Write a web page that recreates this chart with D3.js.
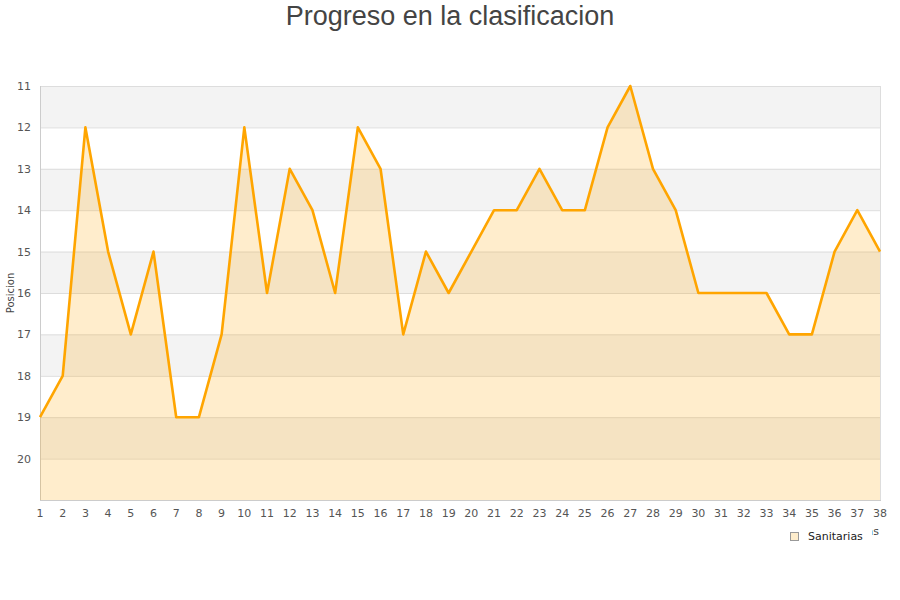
<!DOCTYPE html>
<html><head><meta charset="utf-8">
<script src="https://cdn.jsdelivr.net/npm/d3@7"></script>
<style>body{margin:0;background:#fff}svg{display:block}</style>
</head><body>
<script>
const jornadas = d3.range(1, 39);
const posiciones = [19,18,12,15,17,15,19,19,17,12,16,13,14,16,12,13,17,15,16,15,14,14,13,14,14,12,11,13,14,16,16,16,16,17,17,15,14,15];
const yTicks = [11,12,13,14,15,16,17,18,19,20];
const seriesName = "Sanitarias";
const title = "Progreso en la clasificacion";
const yTitle = "Posicion";
const xTitle = "Jornadas";

const W = 900, H = 600;
const svg = d3.select("body").append("svg").attr("width", W).attr("height", H);
const x = d3.scaleLinear().domain([1, 38]).range([40, 880]);
const y = d3.scaleLinear().domain([11, 21]).range([86, 500]);
const font = "DejaVu Sans, sans-serif";

// bands
d3.range(11, 21).forEach(v => {
  if ((v - 11) % 2 === 0) {
    svg.append("rect").attr("x", 40).attr("y", y(v)).attr("width", 840).attr("height", y(v + 1) - y(v)).attr("fill", "#f3f3f3");
  }
});
// grid
svg.append("g").selectAll("line").data(d3.range(11, 22)).join("line")
  .attr("x1", 40).attr("x2", 880).attr("y1", d => y(d) + 0.5).attr("y2", d => y(d) + 0.5)
  .attr("stroke", "#dddddd");
// frame
svg.append("line").attr("x1", 40.5).attr("x2", 40.5).attr("y1", 86).attr("y2", 500).attr("stroke", "#cccccc");
svg.append("line").attr("x1", 880.5).attr("x2", 880.5).attr("y1", 86).attr("y2", 500).attr("stroke", "#dddddd");
svg.append("line").attr("x1", 40).attr("x2", 881).attr("y1", 500.5).attr("y2", 500.5).attr("stroke", "#cccccc");

const data = jornadas.map((j, i) => ({j, p: posiciones[i]}));
svg.append("path").datum(data)
  .attr("d", d3.area().x(d => x(d.j)).y0(y(21)).y1(d => y(d.p)))
  .attr("fill", "rgba(255,165,0,0.2)");
svg.append("path").datum(data)
  .attr("d", d3.line().x(d => x(d.j)).y(d => y(d.p)))
  .attr("fill", "none").attr("stroke", "#ffa500").attr("stroke-width", 2.6).attr("stroke-linejoin", "round");

// y ticks
svg.append("g").selectAll("text").data(yTicks).join("text")
  .attr("x", 31).attr("y", d => y(d) + 4).attr("text-anchor", "end")
  .attr("font-family", font).attr("font-size", 11).attr("fill", "#555").text(d => d);
// x ticks
svg.append("g").selectAll("text").data(jornadas).join("text")
  .attr("x", d => x(d)).attr("y", 517).attr("text-anchor", "middle")
  .attr("font-family", font).attr("font-size", 11).attr("fill", "#555").text(d => d);

svg.append("text").attr("transform", "translate(14,293) rotate(-90)").attr("text-anchor", "middle")
  .attr("font-family", font).attr("font-size", 10).attr("fill", "#444").text(yTitle);

svg.append("text").attr("x", 879).attr("y", 535).attr("text-anchor", "end")
  .attr("font-family", font).attr("font-size", 11).attr("fill", "#444").text(xTitle);

svg.append("text").attr("x", 450).attr("y", 25).attr("text-anchor", "middle")
  .attr("font-family", "Liberation Sans, Arial, sans-serif").attr("font-size", 27).attr("fill", "#444").text(title);

// legend
const lg = svg.append("g");
lg.append("rect").attr("x", 782).attr("y", 527).attr("width", 90).attr("height", 20).attr("fill", "#fff");
lg.append("rect").attr("x", 790.5).attr("y", 532.5).attr("width", 8).attr("height", 8)
  .attr("fill", "#feedcc").attr("stroke", "#999");
lg.append("text").attr("x", 808).attr("y", 540).attr("font-family", font).attr("font-size", 11)
  .attr("fill", "#222").text(seriesName);
</script>
</body></html>
